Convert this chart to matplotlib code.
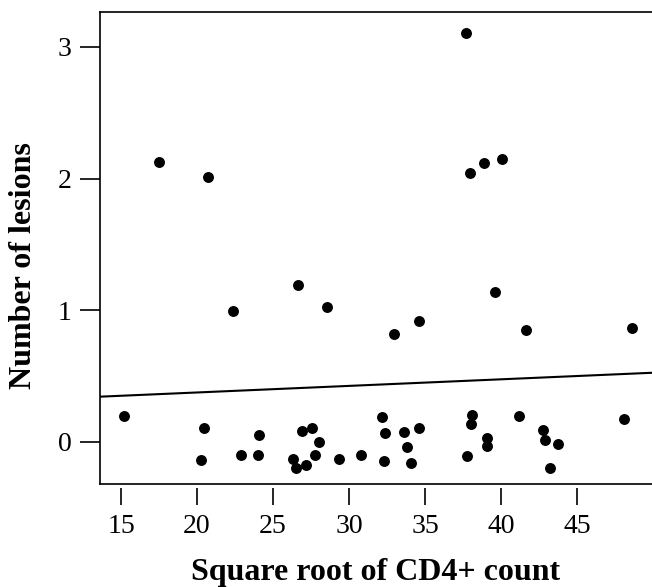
import matplotlib
matplotlib.use("Agg")
import matplotlib.pyplot as plt
import numpy as np

# square root of CD4+ count vs (jittered) number of lesions
sqrt_cd4 = [17.5, 20.72, 26.64, 22.37, 28.55, 32.96, 34.63, 37.72, 37.98, 38.86,
            40.07, 39.59, 41.64, 48.62,
            15.18, 20.44, 20.26, 22.88, 24.08, 23.99, 26.30, 26.49, 26.91, 27.59,
            27.17, 28.05, 27.78, 29.32, 30.77, 32.19, 32.39, 32.28, 33.62, 33.84,
            34.10, 34.63, 38.09, 38.03, 37.78, 39.10, 39.10, 41.18, 42.76, 42.88,
            43.73, 43.22, 48.07]
lesions = [2.127, 2.013, 1.192, 0.997, 1.029, 0.818, 0.921, 3.109, 2.043, 2.119,
           2.149, 1.141, 0.848, 0.866,
           0.197, 0.104, -0.137, -0.099, 0.055, -0.101, -0.131, -0.200, 0.084, 0.109,
           -0.175, 0.0, -0.096, -0.129, -0.099, 0.188, 0.066, -0.144, 0.078, -0.040,
           -0.159, 0.106, 0.207, 0.137, -0.104, 0.028, -0.028, 0.197, 0.091, 0.015,
           -0.017, -0.197, 0.172]

# fitted line
intercept = 0.276
slope = 0.0050

xticks = [15, 20, 25, 30, 35, 40, 45]
yticks = [0, 1, 2, 3]

plt.rcParams['font.family'] = ['Liberation Serif', 'DejaVu Serif']

fig = plt.figure(figsize=(6.52, 5.87), dpi=100)
ax = fig.add_axes([0.1534, 0.1755, 0.8466, 0.8041])

ax.scatter(sqrt_cd4, lesions, s=62, color='black', zorder=3, linewidths=0)

xlim = (13.62, 49.93)
xs = np.array(xlim)
ax.plot(xs, intercept + slope * xs, color='black', lw=1.5)

ax.set_xlim(*xlim)
ax.set_ylim(-0.319, 3.266)
ax.set_xticks(xticks)
ax.set_yticks(yticks)

ax.spines['right'].set_visible(False)
for s in ['left', 'top']:
    ax.spines[s].set_linewidth(1.2)
# bottom ticks sit a bit below the box, like base R
ax.spines['bottom'].set_position(('outward', 3))
ax.spines['bottom'].set_color('none')
ax.plot([0, 1], [0, 0], transform=ax.transAxes, color='black', lw=1.2, clip_on=False)

ax.tick_params(axis='x', length=12.5, width=1.2, pad=6, labelsize=20, direction='out')
ax.tick_params(axis='y', length=14.4, width=1.2, pad=6, labelsize=20, direction='out')

ax.set_xlabel('Square root of CD4+ count', fontsize=23, fontweight='bold')
ax.set_ylabel('Number of lesions', fontsize=23, fontweight='bold')
ax.xaxis.set_label_coords(0.5, -0.156)
ax.yaxis.set_label_coords(-0.112, 0.463)

fig.savefig('out.png', dpi=100)
